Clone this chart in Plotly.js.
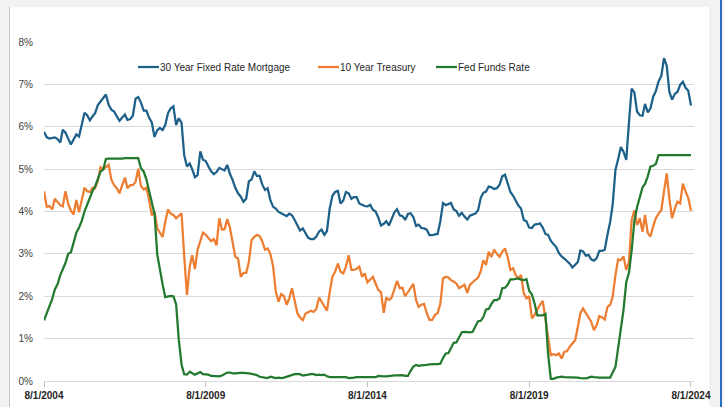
<!DOCTYPE html>
<html>
<head>
<meta charset="utf-8">
<script src="https://cdn.plot.ly/plotly-3.0.1.min.js"></script>
<style>html,body{margin:0;padding:0;background:#f2f2f2;}#chart{width:724px;height:407px;}</style>
</head>
<body>
<div id="chart"></div>
<script>
// Monthly observations, first month = Aug 2004, last = Aug 2024
const startYear = 2004, startMonth = 8;

const seriesNames = ["30 Year Fixed Rate Mortgage", "10 Year Treasury", "Fed Funds Rate"];

const mortgage30 = [
  5.88,5.75,5.72,5.73,5.75,
  5.71,5.63,5.93,5.86,5.72,5.58,5.70,5.82,5.77,6.07,6.33,6.27,
  6.15,6.25,6.32,6.51,6.60,6.68,6.76,6.52,6.40,6.36,6.24,6.14,
  6.22,6.29,6.16,6.18,6.26,6.66,6.70,6.57,6.38,6.38,6.21,6.10,
  5.76,5.92,5.97,5.92,6.04,6.32,6.43,6.48,6.04,6.20,6.09,5.33,
  5.06,5.13,5.00,4.81,4.86,5.42,5.22,5.19,5.06,4.95,4.88,4.93,
  5.03,4.99,4.97,5.10,4.89,4.74,4.56,4.43,4.35,4.23,4.30,4.71,
  4.76,4.95,4.84,4.84,4.64,4.51,4.55,4.27,4.11,4.07,3.99,3.96,
  3.92,3.89,3.95,3.91,3.80,3.68,3.55,3.60,3.50,3.38,3.35,3.35,
  3.41,3.53,3.57,3.45,3.54,4.07,4.37,4.46,4.49,4.19,4.26,4.46,
  4.43,4.30,4.34,4.34,4.19,4.16,4.13,4.12,4.16,4.04,4.00,3.86,
  3.67,3.71,3.77,3.67,3.84,3.98,4.05,3.91,3.89,3.80,3.94,3.96,
  3.87,3.66,3.69,3.61,3.60,3.57,3.44,3.44,3.46,3.47,3.77,4.20,
  4.15,4.17,4.20,4.05,4.01,3.90,3.97,3.88,3.81,3.90,3.92,3.95,
  4.03,4.33,4.44,4.47,4.59,4.57,4.53,4.55,4.63,4.83,4.87,4.64,
  4.46,4.37,4.27,4.14,4.07,3.80,3.77,3.62,3.61,3.69,3.70,3.72,
  3.62,3.47,3.45,3.31,3.23,3.16,3.02,2.94,2.89,2.83,2.77,2.68,
  2.74,2.81,3.08,3.06,2.96,2.98,2.87,2.84,2.90,3.07,3.07,3.10,
  3.45,3.76,4.17,4.98,5.23,5.52,5.41,5.22,6.11,6.90,6.81,6.36,
  6.27,6.26,6.54,6.34,6.43,6.71,6.84,7.07,7.20,7.62,7.44,6.82,
  6.64,6.78,6.82,6.99,7.06,6.92,6.85,6.50
];

const treasury10 = [
  4.48,4.11,4.13,4.05,4.30,
  4.23,4.15,4.12,4.48,4.18,4.02,3.93,4.27,3.98,4.25,4.56,4.48,
  4.46,4.56,4.55,4.72,5.04,5.00,5.05,5.10,4.75,4.62,4.55,4.43,
  4.62,4.80,4.55,4.62,4.62,4.70,5.01,4.60,4.52,4.56,4.27,3.91,
  4.00,3.60,3.50,3.40,3.75,4.05,3.95,3.92,3.84,3.90,3.96,2.95,
  2.03,2.70,2.97,2.64,3.10,3.30,3.50,3.45,3.37,3.30,3.35,3.20,
  3.84,3.57,3.58,3.82,3.62,3.25,2.93,2.89,2.46,2.55,2.55,2.81,
  3.33,3.40,3.45,3.42,3.30,3.10,3.13,3.00,2.70,2.11,1.87,2.05,
  2.00,1.80,1.95,2.19,1.87,1.60,1.50,1.44,1.59,1.62,1.66,1.63,
  1.70,1.97,1.87,1.75,1.66,2.10,2.46,2.58,2.77,2.58,2.54,2.70,
  2.97,2.62,2.62,2.65,2.70,2.46,2.54,2.33,2.40,2.46,2.30,2.15,
  2.10,1.61,1.97,1.91,1.97,2.20,2.36,2.19,2.20,2.00,2.10,2.19,
  2.29,1.91,1.75,1.80,1.82,1.60,1.44,1.44,1.56,1.60,1.82,2.42,
  2.46,2.44,2.38,2.35,2.30,2.19,2.23,2.27,2.08,2.27,2.33,2.38,
  2.44,2.60,2.85,2.74,3.05,2.93,3.10,3.00,2.93,3.05,3.13,2.93,
  2.62,2.66,2.50,2.42,2.50,2.07,1.95,2.00,1.48,1.56,1.70,1.80,
  1.89,1.44,1.05,0.61,0.63,0.61,0.65,0.53,0.69,0.70,0.81,0.88,
  0.96,1.28,1.60,1.71,1.60,1.52,1.40,1.20,1.32,1.53,1.50,1.45,
  1.75,1.80,1.99,2.50,2.87,2.85,2.94,2.62,2.81,3.80,4.03,3.68,
  3.84,3.52,3.92,3.49,3.41,3.65,3.84,3.95,4.03,4.47,4.90,4.30,
  3.84,4.07,4.23,4.19,4.66,4.47,4.32,4.02
];

const fedFunds = [
  1.43,1.61,1.76,1.93,2.16,
  2.28,2.50,2.63,2.79,3.00,3.04,3.26,3.50,3.62,3.78,4.00,4.16,
  4.29,4.49,4.59,4.79,4.94,4.99,5.24,5.25,5.25,5.25,5.25,5.24,
  5.25,5.26,5.26,5.25,5.25,5.25,5.26,5.02,4.94,4.76,4.49,4.24,
  3.94,2.98,2.61,2.28,1.98,2.00,2.01,2.00,1.81,0.97,0.39,0.16,
  0.15,0.22,0.18,0.15,0.18,0.21,0.16,0.16,0.15,0.12,0.12,0.12,
  0.11,0.13,0.16,0.20,0.20,0.18,0.18,0.19,0.19,0.19,0.19,0.18,
  0.17,0.16,0.14,0.10,0.09,0.09,0.07,0.10,0.08,0.07,0.08,0.07,
  0.08,0.10,0.13,0.14,0.16,0.16,0.16,0.13,0.14,0.16,0.16,0.16,
  0.14,0.15,0.14,0.15,0.11,0.09,0.09,0.08,0.08,0.09,0.08,0.09,
  0.07,0.07,0.08,0.09,0.09,0.10,0.09,0.09,0.09,0.09,0.09,0.12,
  0.11,0.11,0.11,0.12,0.12,0.13,0.13,0.14,0.14,0.12,0.12,0.24,
  0.34,0.38,0.36,0.37,0.37,0.38,0.39,0.40,0.40,0.40,0.41,0.54,
  0.65,0.66,0.79,0.90,0.91,1.04,1.15,1.16,1.15,1.15,1.16,1.30,
  1.41,1.42,1.51,1.69,1.70,1.82,1.91,1.91,1.95,2.19,2.20,2.27,
  2.40,2.40,2.41,2.42,2.39,2.38,2.40,2.13,2.04,1.83,1.55,1.55,
  1.55,1.58,0.65,0.05,0.05,0.08,0.09,0.10,0.09,0.09,0.09,0.09,
  0.09,0.08,0.07,0.07,0.06,0.08,0.10,0.09,0.08,0.08,0.08,0.08,
  0.08,0.08,0.20,0.33,0.77,1.21,1.68,2.33,2.56,3.08,3.78,4.10,
  4.33,4.57,4.65,4.83,5.06,5.08,5.12,5.33,5.33,5.33,5.33,5.33,
  5.33,5.33,5.33,5.33,5.33,5.33,5.33,5.33
];

const xTickVals = ["2004-08-01","2009-08-01","2014-08-01","2019-08-01","2024-08-01"];
const xTickText = ["8/1/2004","8/1/2009","8/1/2014","8/1/2019","8/1/2024"];
const yTickVals = [0,1,2,3,4,5,6,7,8];
const yTickText = ["0%","1%","2%","3%","4%","5%","6%","7%","8%"];

const colors = ["#1d6089", "#ed7d31", "#237a2f"];

// month dates for each observation
const dates = mortgage30.map((_, i) => {
  const m0 = startMonth - 1 + i;
  const y = startYear + Math.floor(m0 / 12);
  const m = (m0 % 12) + 1;
  return y + "-" + String(m).padStart(2, "0") + "-01";
});

const font = "Liberation Sans, Arial, sans-serif";
const allSeries = [mortgage30, treasury10, fedFunds];
const traces = allSeries.map((vals, k) => ({
  type: "scatter", mode: "lines", x: dates, y: vals, name: seriesNames[k],
  line: {color: colors[k], width: 2.25}, hoverinfo: "x+y"
}));

// plot area: px 44..694 horizontally, 42..381 vertically
const L = 44, W = 650, T = 42, H = 339;
const px = v => (v - L) / W;
const py = v => (T + H - v) / H;

const shapes = [
  {type:"rect", xref:"paper", yref:"paper", x0:px(10), x1:px(709), y0:py(412), y1:py(7),
   fillcolor:"#ffffff", line:{width:0}, layer:"below"},
  {type:"line", xref:"paper", yref:"paper", x0:px(9.5), x1:px(9.5), y0:py(412), y1:py(7),
   line:{color:"#c4c4c4", width:1}, layer:"below"},
  {type:"line", xref:"paper", yref:"paper", x0:px(721), x1:px(721), y0:py(412), y1:py(-5),
   line:{color:"#2f6fc0", width:2}, layer:"below"}
];
const legendLine = [[138,159],[318,339],[436,457]];
const annotations = [];
legendLine.forEach((seg, k) => {
  shapes.push({type:"line", xref:"paper", yref:"paper", x0:px(seg[0]), x1:px(seg[1]),
    y0:py(67), y1:py(67), line:{color:colors[k], width:2.25}});
  annotations.push({xref:"paper", yref:"paper", x:px(seg[1] - 1), y:py(67), xanchor:"left",
    yanchor:"middle", showarrow:false, text:seriesNames[k],
    font:{family:font, size:10, color:"#262626"}});
});

const layout = {
  width: 724, height: 407,
  margin: {l: L, r: 724 - L - W, t: T, b: 407 - T - H, pad: 0},
  paper_bgcolor: "#f2f2f2", plot_bgcolor: "rgba(0,0,0,0)",
  showlegend: false,
  font: {family: font, size: 10, color: "#404040"},
  xaxis: {
    type: "date", range: ["2004-08-01", "2024-09-04"],
    tickmode: "array", tickvals: xTickVals, ticktext: xTickText,
    showgrid: false, zeroline: false,
    showline: true, linecolor: "#d9d9d9", linewidth: 1,
    ticks: "outside", ticklen: 5, tickcolor: "#bfbfbf", tickwidth: 1,
    tickfont: {family: font, size: 10, color: "#262626", weight: "bold"},
    fixedrange: true
  },
  yaxis: {
    range: [0, 8], tickmode: "array", tickvals: yTickVals, ticktext: yTickText,
    showgrid: true, gridcolor: "#d9d9d9", gridwidth: 1,
    zeroline: false, showline: false, ticks: "",
    ticklabelstandoff: 10,
    tickfont: {family: font, size: 10, color: "#404040"},
    fixedrange: true
  },
  shapes: shapes,
  annotations: annotations
};

Plotly.newPlot("chart", traces, layout, {displayModeBar: false, staticPlot: true});
</script>
</body>
</html>
